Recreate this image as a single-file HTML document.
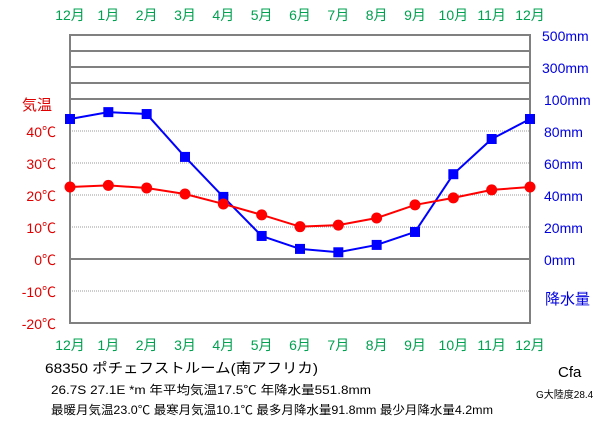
<!DOCTYPE html>
<html><head><meta charset="utf-8"><style>
body{margin:0;background:#fff;}
svg text{font-family:"Liberation Sans","Noto Sans CJK JP",sans-serif;}
</style></head><body>
<svg width="611" height="425" xmlns="http://www.w3.org/2000/svg">
<g id="grid"></g>
<g id="labels"></g>
<g id="series"></g>
<text x="22" y="110" font-size="15" fill="#e00000">気温</text>
<text x="545" y="304" font-size="15" fill="#0000e0">降水量</text>
<text x="45" y="373" font-size="14" fill="#000" textLength="273" lengthAdjust="spacingAndGlyphs">68350  ポチェフストルーム(南アフリカ)</text>
<text x="51" y="394" font-size="12" fill="#000" textLength="320" lengthAdjust="spacingAndGlyphs">26.7S  27.1E  *m  年平均気温17.5℃  年降水量551.8mm</text>
<text x="51" y="414" font-size="12" fill="#000" textLength="442" lengthAdjust="spacingAndGlyphs">最暖月気温23.0℃ 最寒月気温10.1℃ 最多月降水量91.8mm 最少月降水量4.2mm</text>
<text x="558" y="377" font-size="15" fill="#000">Cfa</text>
<text x="536" y="398" font-size="10" fill="#000">G大陸度28.4</text>
</svg>
<script>
const months=["12月","1月","2月","3月","4月","5月","6月","7月","8月","9月","10月","11月","12月"];
const temps=[22.5,23.0,22.2,20.3,17.2,13.8,10.1,10.6,12.8,16.9,19.1,21.6,22.5];
const precip=[87.5,91.8,90.6,63.8,38.8,14.4,6.3,4.2,8.8,16.9,53.0,75.0,87.5];
const tempTicks=[40,30,20,10,0,-10,-20];
const precipTicks=[0,20,40,60,80,100];
const extraTicks=[300,500];
const NS="http://www.w3.org/2000/svg";
const L=70,R=530;
const x=i=>L+i*(R-L)/12;
const yT=t=>259-t*3.2;
const yP=p=>259-p*1.6;
function mk(tag,attrs,parent){const e=document.createElementNS(NS,tag);for(const k in attrs)e.setAttribute(k,attrs[k]);parent.appendChild(e);return e;}
const grid=document.getElementById('grid'),lab=document.getElementById('labels'),ser=document.getElementById('series');
[35,51,67,83,99].forEach(y=>{const l=mk('line',{x1:L,x2:R,y1:y,y2:y,stroke:'#808080','stroke-width':2},grid);

});
tempTicks.forEach(t=>{const y=yT(t);
if(t===0){const l=mk('line',{x1:L,x2:R,y1:y,y2:y,stroke:'#808080','stroke-width':2},grid);

}
else if(t>-20){const l=mk('line',{x1:L,x2:R,y1:y,y2:y,stroke:'#999','stroke-width':1,'stroke-dasharray':'1,1'},grid);

}
const tx=mk('text',{x:56,y:y+6,'font-size':14,fill:'#e00000','text-anchor':'end'},lab);tx.textContent=t+'℃';

});
const border=mk('rect',{x:L,y:35,width:R-L,height:323-35,fill:'none',stroke:'#808080','stroke-width':2},grid);


precipTicks.forEach(p=>{const tx=mk('text',{x:544,y:yP(p)+6,'font-size':14,fill:'#0000e0'},lab);tx.textContent=p+'mm';

});
extraTicks.forEach((p,i)=>{const tx=mk('text',{x:542,y:(i?35:67)+6,'font-size':14,fill:'#0000e0'},lab);tx.textContent=p+'mm';

});
months.forEach((m,i)=>{[20,350].forEach(y=>{const tx=mk('text',{x:x(i),y:y,'font-size':14,fill:'#00a050','text-anchor':'middle'},lab);tx.textContent=m;

});});
const pl=mk('polyline',{points:precip.map((p,i)=>x(i)+','+yP(p)).join(' '),fill:'none',stroke:'#0000ff','stroke-width':2},ser);


precip.forEach((p,i)=>{const r=mk('rect',{x:x(i)-5,y:yP(p)-5,width:10,height:10,fill:'#0000ff'},ser);

});
const tl=mk('polyline',{points:temps.map((t,i)=>x(i)+','+yT(t)).join(' '),fill:'none',stroke:'#ff0000','stroke-width':2},ser);


temps.forEach((t,i)=>{const c=mk('circle',{cx:x(i),cy:yT(t),r:5.5,fill:'#ff0000'},ser);

});
</script>
</body></html>
